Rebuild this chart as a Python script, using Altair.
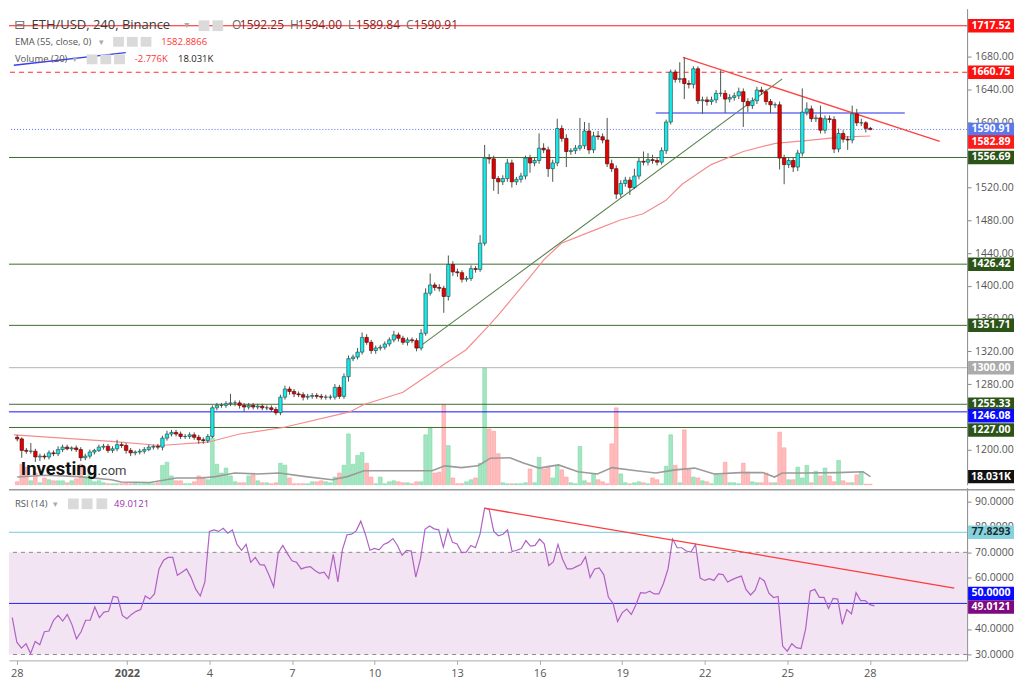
import altair as alt
import pandas as pd

# ---------------- data ----------------
first_open = 1215.0
# closes of 4h candles, from 2021-12-27 20:00 UTC
close = [1213,
    1199, 1198, 1198, 1191, 1192, 1191,   # Dec 28
    1196, 1195, 1200, 1203, 1201, 1202,   # Dec 29
    1200, 1190, 1192, 1197, 1199, 1203,   # Dec 30
    1204, 1199, 1201, 1206, 1205, 1199,   # Dec 31
    1196, 1197, 1198, 1200, 1203, 1204,   # Jan 1
    1203, 1214, 1219, 1221, 1219, 1216,   # Jan 2
    1216, 1218, 1215, 1212, 1211, 1216,   # Jan 3
    1251, 1254, 1254, 1256, 1257, 1257,   # Jan 4
    1254, 1252, 1254, 1252, 1253, 1251,   # Jan 5
    1251, 1249, 1245, 1264, 1274, 1271,   # Jan 6
    1268, 1267, 1264, 1265, 1266, 1265,   # Jan 7
    1264, 1264, 1264, 1276, 1265, 1289,   # Jan 8
    1311, 1313, 1319, 1337, 1331, 1321,   # Jan 9
    1324, 1325, 1329, 1334, 1340, 1336,   # Jan 10
    1331, 1334, 1333, 1324, 1342, 1391,   # Jan 11
    1401, 1398, 1397, 1387, 1426, 1417,   # Jan 12
    1416, 1408, 1409, 1421, 1420, 1452,   # Jan 13
    1556, 1555, 1531, 1527, 1531, 1550,   # Jan 14
    1527, 1530, 1534, 1556, 1550, 1553,   # Jan 15
    1568, 1566, 1543, 1550, 1592, 1580,   # Jan 16
    1564, 1565, 1568, 1571, 1589, 1566,   # Jan 17
    1583, 1582, 1578, 1549, 1543, 1512,   # Jan 18
    1525, 1529, 1520, 1534, 1552, 1551,   # Jan 19
    1554, 1553, 1551, 1565, 1600, 1661,   # Jan 20
    1652, 1653, 1647, 1646, 1665, 1626,   # Jan 21
    1627, 1625, 1627, 1635, 1635, 1628,   # Jan 22
    1630, 1632, 1637, 1625, 1620, 1626,   # Jan 23
    1639, 1637, 1625, 1621, 1621, 1556,   # Jan 24
    1548, 1553, 1545, 1562, 1612, 1616,   # Jan 25
    1604, 1605, 1590, 1604, 1603, 1567,   # Jan 26
    1586, 1579, 1578, 1610, 1599, 1599,   # Jan 27
    1592.25, 1590.91]                     # Jan 28

wick_up = [3,
    2, 3, 10, 3, 3, 3,   3, 3, 4, 3, 3, 2,   3, 3, 3, 3, 2, 3,   3, 3, 3, 6, 3, 3,
    3, 2, 3, 3, 3, 2,    3, 3, 4, 3, 3, 3,   3, 3, 3, 3, 3, 3,   3, 3, 3, 3, 11, 3,
    3, 3, 3, 3, 3, 3,    3, 3, 3, 3, 4, 3,   3, 3, 3, 3, 3, 3,   3, 3, 3, 4, 3, 4,
    4, 3, 5, 6, 4, 3,    3, 3, 3, 3, 5, 3,   3, 3, 3, 3, 5, 6,   14, 3, 4, 3, 11, 4,
    4, 3, 3, 4, 3, 10,   16, 5, 4, 3, 4, 5,  4, 3, 4, 3, 4, 3,   18, 6, 4, 4, 12, 4,
    5, 3, 4, 34, 11, 10, 5, 6, 4, 27, 5, 4,  4, 4, 4, 9, 5, 12,  8, 6, 4, 4, 3, 3,
    3, 20, 26, 4, 3, 3,  4, 4, 4, 4, 28, 4,  4, 4, 5, 4, 4, 4,   4, 4, 3, 3, 3, 4,
    4, 4, 4, 4, 29, 8,   4, 4, 15, 4, 4, 4,  6, 4, 4, 10, 6, 5,
    2, 1.75]
wick_dn = [3,
    9, 3, 3, 6, 5, 3,    3, 3, 3, 3, 2, 3,   3, 4, 3, 3, 3, 2,   3, 3, 3, 3, 3, 4,
    4, 3, 3, 3, 2, 3,    3, 4, 3, 3, 3, 3,   3, 3, 3, 5, 4, 3,   2, 3, 3, 3, 3, 4,
    4, 6, 3, 3, 3, 3,    3, 3, 3, 3, 3, 4,   4, 3, 4, 3, 3, 3,   3, 3, 3, 3, 3, 3,
    6, 3, 3, 3, 3, 4,    4, 3, 3, 3, 3, 4,   3, 4, 3, 4, 3, 3,   3, 4, 4, 20, 5, 5,
    5, 4, 3, 3, 4, 3,    3, 6, 15, 15, 4, 4, 7, 4, 4, 4, 12, 4,  4, 4, 10, 16, 4, 4,
    19, 4, 4, 3, 4, 5,   4, 4, 4, 4, 4, 6,   4, 4, 9, 2, 4, 4,   4, 4, 4, 3, 4, 3,
    4, 4, 19, 5, 5, 4,   16, 5, 4, 4, 4, 17, 4, 4, 4, 31, 8, 4,  4, 4, 4, 10, 4, 14,
    24, 4, 6, 5, 4, 4,   4, 4, 4, 4, 4, 5,   4, 4, 12, 4, 4, 4,
    5, 1.07]

volume_k = [6.5, 45.6, 39, 8.7, 26, 4.3, 15, 11, 8.7, 8.7,
    8.7, 4.3, 8.7, 13, 45.6, 17, 26, 6.5, 8.7, 4.3,
    2.2, 2.2, 2.2, 2.2, 4.3, 2.2, 4.3, 2.2, 4.3, 4.3,
    2.2, 4.3, 43, 50, 19.5, 8.7, 8.7, 2.2, 2.2, 6.5,
    19.5, 17, 11, 104, 45.6, 26, 37, 19.5, 6.5, 4.3,
    4.3, 19.5, 21.7, 8.7, 4.3, 4.3, 2.2, 4.3, 47.7, 43.4,
    15, 2.2, 2.2, 2.2, 2.2, 6.5, 6.5, 8.7, 6.5, 4.3,
    17, 26, 43.4, 113, 45.6, 65, 71.6, 47.7, 17, 2.2,
    17, 2.2, 6.5, 8.7, 6.5, 4.3, 4.3, 2.2, 6.5, 6.5,
    111, 126, 26, 28, 178, 87, 15, 2.2, 2.2, 6.5,
    11, 15, 47.7, 260, 124, 119, 69, 4.3, 2.2, 2.2,
    2.2, 2.2, 4.3, 35, 4.3, 61, 35, 41, 15, 43,
    33, 17, 4.3, 2.2, 85, 8.7, 4.3, 24, 11, 6.5,
    2.2, 91, 171, 24, 4.3, 2.2, 4.3, 6.5, 4.3, 2.2,
    15, 11, 2.2, 41, 111, 43, 4.3, 122, 33, 17,
    15, 8.7, 6.5, 2.2, 24, 22, 50, 4.3, 4.3, 2.2,
    48, 28, 6.5, 4.3, 4.3, 26, 4.3, 4.3, 117, 82,
    11, 11, 39, 15, 43, 4.3, 30, 19.5, 37, 19.5,
    6.5, 54, 8.7, 4.3, 4.3, 22, 28, 1, 1]

rsi = [44.4, 34.8, 32.5, 34.2, 30.4, 35.1, 33.8, 38.9, 39.2, 43.4,
    45.3, 43.1, 45.7, 41.8, 36.1, 38.9, 43.4, 43.4, 48.6, 44.4,
    46.6, 46.9, 52.7, 52.4, 45.3, 44.0, 45.7, 46.9, 47.6, 52.9,
    51.7, 53.7, 63.5, 66.9, 68.0, 68.0, 61.0, 62.2, 63.5, 60.1,
    55.6, 52.9, 58.4, 78.2, 78.8, 78.2, 79.4, 77.5, 78.8, 73.1,
    70.8, 73.1, 66.1, 68.0, 65.2, 65.0, 61.0, 56.5, 69.9, 72.7,
    69.5, 66.7, 66.1, 63.5, 64.1, 64.4, 62.9, 61.8, 62.2, 59.7,
    69.2, 58.4, 71.1, 76.9, 77.1, 78.4, 82.2, 77.1, 70.8, 71.5,
    71.0, 73.1, 73.9, 75.4, 72.7, 68.9, 70.8, 70.5, 60.3, 67.3,
    79.0, 80.3, 79.2, 78.8, 72.0, 79.0, 73.9, 73.3, 69.9, 70.1,
    72.7, 71.8, 77.1, 87.3, 86.8, 78.2, 76.5, 77.1, 78.8, 70.3,
    70.8, 71.5, 74.6, 72.4, 72.7, 75.2, 73.3, 64.8, 66.3, 73.1,
    67.3, 63.5, 63.5, 64.4, 65.2, 68.2, 60.1, 63.5, 63.9, 61.2,
    52.4, 50.1, 42.9, 46.3, 47.8, 45.7, 49.5, 54.2, 54.0, 54.8,
    53.7,
    53.7, 57.8, 63.5, 75.2, 71.8, 71.8, 70.5, 70.1, 73.1, 59.9,
    59.0, 59.7, 59.0, 61.6, 61.3, 58.4, 59.3, 60.1, 60.7, 55.5,
    53.3, 55.2, 60.1, 58.8, 54.0, 52.3, 52.7, 33.3, 31.3, 34.2,
    32.7, 32.3, 39.9, 54.8, 55.5, 52.4, 52.4, 48.0, 52.0, 51.7,
    41.8, 47.6, 45.9, 54.2, 51.1, 51.1, 49.5, 49.0121]

ema_time = ["2021-12-27T17:00:00Z", "2021-12-31T07:00:00Z", "2022-01-02T02:00:00Z",
    "2022-01-03T20:00:00Z", "2022-01-05T00:00:00Z", "2022-01-06T14:30:00Z",
    "2022-01-09T01:00:00Z", "2022-01-09T13:40:00Z", "2022-01-11T00:00:00Z",
    "2022-01-12T07:40:00Z", "2022-01-13T07:40:00Z", "2022-01-14T03:30:00Z",
    "2022-01-14T13:40:00Z", "2022-01-15T15:30:00Z", "2022-01-16T04:20:00Z",
    "2022-01-16T19:40:00Z", "2022-01-18T00:50:00Z", "2022-01-18T23:10:00Z",
    "2022-01-19T19:40:00Z", "2022-01-20T15:30:00Z", "2022-01-21T06:00:00Z",
    "2022-01-22T07:40:00Z", "2022-01-23T12:00:00Z", "2022-01-24T16:20:00Z",
    "2022-01-25T21:30:00Z", "2022-01-27T01:40:00Z", "2022-01-28T04:00:00Z"]
ema_value = [1218, 1210, 1205, 1209, 1219, 1227, 1246, 1255, 1270, 1300, 1322, 1351,
    1367, 1410, 1432, 1452, 1468, 1480, 1488, 1504, 1524, 1548, 1564, 1574,
    1577.6, 1581.5, 1582.89]

vma_time = ["2021-12-27T20:00", "2021-12-28T21:00", "2021-12-30T02:30", "2021-12-31T07:00",
    "2021-12-31T15:30", "2022-01-01T17:00", "2022-01-02T02:00", "2022-01-02T16:20",
    "2022-01-03T14:30", "2022-01-04T02:30", "2022-01-04T19:40", "2022-01-05T15:30",
    "2022-01-06T11:00", "2022-01-07T10:20", "2022-01-08T09:30", "2022-01-08T23:00",
    "2022-01-09T13:40", "2022-01-10T09:30", "2022-01-11T14:30", "2022-01-12T01:40",
    "2022-01-12T13:00", "2022-01-13T03:30", "2022-01-13T18:00", "2022-01-14T00:00",
    "2022-01-14T05:00", "2022-01-14T22:20", "2022-01-15T09:30", "2022-01-16T00:00",
    "2022-01-16T17:10", "2022-01-17T10:20", "2022-01-18T03:30", "2022-01-18T16:20",
    "2022-01-19T13:40", "2022-01-20T06:50", "2022-01-21T00:00", "2022-01-21T17:10",
    "2022-01-22T10:20", "2022-01-23T09:30", "2022-01-24T05:10", "2022-01-24T15:30",
    "2022-01-24T22:20", "2022-01-25T18:00", "2022-01-26T23:00", "2022-01-27T21:30",
    "2022-01-28T04:00"]
vma_value = [17, 21, 18, 11, 6, 5, 9, 15, 15, 18, 26, 24, 26, 18, 11, 18, 31, 31, 31, 31,
    42, 38, 42, 51, 59, 60, 49, 37, 44, 29, 24, 38, 31, 26, 33, 37, 24, 27, 27, 17,
    26, 26, 27, 29, 18.031]

# horizontal price levels
solid_green_levels = [1556.69, 1426.42, 1351.71, 1255.33, 1227.00]
red_solid_level = 1717.52
red_dashed_level = 1660.75
blue_dotted_level = 1590.91
gray_level = 1300.00
blue_level = 1246.08
ema_last = 1582.89
vol_ma_last = 18.031

# trend lines (start time, start value, end time, end value)
price_trend_red = ("2022-01-21T06:50:00Z", 1678.8, "2022-01-30T17:10:00Z", 1576.4)
price_trend_green = ("2022-01-11T12:50:00Z", 1323.9, "2022-01-24T22:20:00Z", 1652.6)
price_trend_blue = ("2022-01-20T06:50:00Z", 1611.0, "2022-01-29T10:20:00Z", 1611.0)
price_trend_blue_top = ("2021-12-27T17:00:00Z", 1669.3, "2021-12-31T19:40:00Z", 1684.8)
rsi_trend_red = ("2022-01-14T00:00:00Z", 87.3, "2022-01-31T01:40:00Z", 56.0)

rsi_levels = {"upper": 70, "lower": 30, "mid": 50, "mark": 77.8293}

# tick labels that are visible in the picture (the others sit under value boxes)
price_ticks = [1200, 1280, 1320, 1360, 1400, 1440, 1480, 1520, 1600, 1640, 1680]
rsi_ticks = [30, 40, 60, 70, 80, 90]
tick_days = [(2021, 12, 28), (2022, 1, 1), (2022, 1, 4), (2022, 1, 7), (2022, 1, 10),
             (2022, 1, 13), (2022, 1, 16), (2022, 1, 19), (2022, 1, 22), (2022, 1, 25),
             (2022, 1, 28)]

# ---------------- tables ----------------
times = pd.date_range("2021-12-27 20:00", periods=len(close), freq="4h")
assert len(close) == len(wick_up) == len(wick_dn) == len(volume_k) == len(rsi)
opens = [first_open] + close[:-1]
cdf = pd.DataFrame({
    "t": [t.strftime("%Y-%m-%dT%H:%M:%SZ") for t in times],
    "o": opens,
    "c": close,
    "hi": [max(a, b) + u for a, b, u in zip(opens, close, wick_up)],
    "lo": [min(a, b) - d for a, b, d in zip(opens, close, wick_dn)],
    "vol": volume_k,
    "rsi": rsi,
})
ema_df = pd.DataFrame({"t": ema_time, "v": ema_value})
vma_df = pd.DataFrame({"t": [s + ":00Z" for s in vma_time], "v": vma_value})

# ---------------- layout ----------------
FONT = "Open Sans"
W, H1, H2 = 960, 477, 173
KX, KY = 1008 / 1024, 675 / 691


def rx(x):
    return round(x * KX, 1)


def ry(y):
    return round(y * KY, 1)


def ryr(y):
    return round((y - 490) * KY, 1)


ONE = pd.DataFrame({"a": [0]})

xs = alt.Scale(type="utc", nice=False, domain=[
    alt.DateTime(year=2021, month=12, date=27, hours=17, minutes=9, utc=True),
    alt.DateTime(year=2022, month=1, date=31, hours=12, minutes=52, utc=True)])
ps = alt.Scale(domain=[1157.1, 1738.4], nice=False, zero=False)
vs = alt.Scale(domain=[0, 1059], nice=False, zero=False)
rs = alt.Scale(domain=[27.7, 95.3], nice=False, zero=False)

price_axis = alt.Axis(orient="right", values=price_ticks, format=".2f",
                      labelFont=FONT, labelFontSize=10.5, labelColor="#555", tickColor="#888",
                      domainColor="#888", tickSize=4, labelPadding=3.5, grid=False, title=None)
rsi_axis = alt.Axis(orient="right", values=rsi_ticks, format=".4f",
                    labelFont=FONT, labelFontSize=10.5, labelColor="#555", tickColor="#888",
                    domainColor="#888", tickSize=4, labelPadding=3.5, grid=False, title=None)
x_axis = alt.Axis(
    values=[alt.DateTime(year=y, month=m, date=d, utc=True) for y, m, d in tick_days],
    labelExpr="(utcmonth(datum.value) == 0 && utcdate(datum.value) == 1) ? '2022' : '' + utcdate(datum.value)",
    labelFontWeight={"condition": {"test": "utcmonth(datum.value) == 0 && utcdate(datum.value) == 1",
                                   "value": "bold"}, "value": "normal"},
    labelFont=FONT, labelFontSize=11, labelColor="#555", tickColor="#aaa", domainColor="#aaa",
    tickSize=4, labelPadding=3, grid=False, title=None, labelFlush=False)

AXES = {id(ps): price_axis, id(rs): rsi_axis, id(vs): None}


def X(f="t", axis=None):
    return alt.X(f"{f}:T", scale=xs, axis=axis, title=None)


def Yp(f, scale=ps):
    return alt.Y(f"{f}:Q", scale=scale, axis=AXES[id(scale)], title=None)


def text(s, x, y, size=9.5, color="#555", weight="normal", font=FONT, align="left"):
    return alt.Chart(ONE).mark_text(text=s, align=align, baseline="middle", fontSize=size,
                                    color=color, fontWeight=weight, font=font).encode(
        x=alt.value(x), y=alt.value(y))


def icon(x0, y0, x1, y1):
    return alt.Chart(ONE).mark_rect(color="#dadada").encode(
        x=alt.value(x0), x2=alt.value(x1), y=alt.value(y0), y2=alt.value(y1))


def hline(v, color, scale=ps, dash=None, width=1.0):
    kw = dict(color=color, strokeWidth=width)
    if dash:
        kw["strokeDash"] = dash
    return alt.Chart(pd.DataFrame({"v": [v]})).mark_rule(**kw).encode(y=Yp("v", scale))


def seg(line, color, scale=ps, width=1.2, xaxis=None):
    t1, v1, t2, v2 = line
    d = pd.DataFrame({"t1": [t1], "v1": [v1], "t2": [t2], "v2": [v2]})
    return alt.Chart(d).mark_rule(color=color, strokeWidth=width).encode(
        x=X("t1", xaxis), x2="t2:T", y=Yp("v1", scale), y2="v2:Q")


def box(v, label, bg, fg="white", scale=ps, nudge=0):
    d = pd.DataFrame({"v": [v]})
    b = alt.Chart(d).mark_tick(orient="horizontal", size=46, thickness=13.5, color=bg,
                               opacity=1, yOffset=nudge).encode(
        x=alt.value(W + 24), y=Yp("v", scale))
    t = alt.Chart(d).mark_text(text=label, color=fg, fontSize=10.5, fontWeight="bold", font=FONT,
                               align="center", baseline="middle", yOffset=nudge).encode(
        x=alt.value(W + 24), y=Yp("v", scale))
    return [b, t]


bull = "datum.c >= datum.o"
GREEN_DARK = "#2c5418"

# ---------------- top panel ----------------
vol_bars = alt.Chart(cdf).mark_bar(size=3.7, strokeWidth=0.6).encode(
    x=X(), y=Yp("vol", vs),
    fill=alt.condition(bull, alt.value("#a3e6c2"), alt.value("#ffbcbc")),
    stroke=alt.condition(bull, alt.value("#7fd8a6"), alt.value("#ff9d9d")))
vol_ma = alt.Chart(vma_df).mark_line(color="#9b9b9b", strokeWidth=1.6).encode(x=X(), y=Yp("v", vs))
vol_group = alt.layer(vol_bars, vol_ma, *box(vol_ma_last, "18.031K", "#111111", scale=vs))

price_layers = [hline(red_solid_level, "#ff1a1a")]
for lv in solid_green_levels:
    price_layers.append(hline(lv, "#3f6b2f"))
price_layers += [
    hline(red_dashed_level, "#ff2a2a", dash=[5, 4]),
    hline(blue_dotted_level, "#5c6fe6", dash=[1, 2]),
    hline(gray_level, "#b4b4b4"),
    hline(blue_level, "#1414ff"),
    alt.Chart(ema_df).mark_line(color="#f58c8c", strokeWidth=1.2).encode(x=X(), y=Yp("v")),
    seg(price_trend_green, "#58804a", width=1.1),
    seg(price_trend_blue, "#6e70f2", width=1.4),
    seg(price_trend_blue_top, "#3c3cf0", width=1.3),
    seg(price_trend_red, "#ff4040", width=1.3),
    alt.Chart(cdf).mark_rule(color="#4a574a", strokeWidth=1).encode(x=X(), y=Yp("lo"), y2="hi:Q"),
    alt.Chart(cdf).mark_bar(size=3.4, strokeWidth=0.7).encode(
        x=X(), y=Yp("o"), y2="c:Q",
        fill=alt.condition(bull, alt.value("#14ecec"), alt.value("#e80000")),
        stroke=alt.condition(bull, alt.value("#2f5050"), alt.value("#5e0a0a"))),
]
# right-hand value boxes
price_layers += box(red_solid_level, "1717.52", "#ff1010")
price_layers += box(red_dashed_level, "1660.75", "#ff1010")
price_layers += box(blue_dotted_level, "1590.91", "#5a78ec")
price_layers += box(ema_last, "1582.89", "#ff1a1a", nudge=6)
for lv in solid_green_levels:
    price_layers += box(lv, f"{lv:.2f}", GREEN_DARK, nudge=(2.5 if lv < 1230 else 0))
price_layers += box(gray_level, "1300.00", "#ababab")
price_layers += box(blue_level, "1246.08", "#0a0aff", nudge=4)

# header texts
price_layers += [
    text("⊟", rx(11), ry(17), size=13, color="#666", font="DejaVu Sans", align="center"),
    text("ETH/USD, 240, Binance", rx(23), ry(17), size=13, color="#3a3a3a"),
    text("▾", rx(181), ry(17), size=10, color="#aaa", font="DejaVu Sans", align="center"),
    icon(rx(193), ry(12), rx(204), ry(23)), icon(rx(207), ry(12), rx(218), ry(23)),
]
ohlc_names = ["O", "H", "L", "C"]
ohlc_vals = ["1592.25", "1594.00", "1589.84", "1590.91"]
for k, (nm, vl) in enumerate(zip(ohlc_names, ohlc_vals)):
    x0 = 227 + k * 59
    price_layers.append(text(nm, rx(x0), ry(17), size=12, color="#666"))
    price_layers.append(text(vl, rx(x0 + 8), ry(17), size=12, color="#8c2222"))
price_layers += [
    text("EMA (55, close, 0)", rx(6), ry(34)),
    text("▾", rx(94), ry(34), size=9, color="#aaa", font="DejaVu Sans", align="center"),
    icon(rx(106), ry(29), rx(117), ry(39)), icon(rx(120), ry(29), rx(131), ry(39)),
    icon(rx(134), ry(29), rx(145), ry(39)),
    text("1582.8866", rx(155), ry(34), color="#ff3535"),
    text("Volume (20)", rx(6), ry(52)),
    text("▾", rx(67), ry(52), size=9, color="#aaa", font="DejaVu Sans", align="center"),
    icon(rx(79), ry(47), rx(90), ry(57)), icon(rx(93), ry(47), rx(104), ry(57)),
    icon(rx(107), ry(47), rx(118), ry(57)),
    text("-2.776K", rx(128), ry(52), color="#ff3535"),
    text("18.031K", rx(172), ry(52), color="#222"),
    alt.Chart(ONE).mark_text(text="Investing", align="left", baseline="alphabetic", fontSize=18.5,
                             fontWeight="bold", font="Roboto", color="#111").encode(
        x=alt.value(rx(12)), y=alt.value(ry(478))),
    alt.Chart(ONE).mark_text(text=".com", align="left", baseline="alphabetic", fontSize=13,
                             font="Roboto", color="#444").encode(
        x=alt.value(rx(90)), y=alt.value(ry(478))),
]
price_group = alt.layer(*price_layers)

top = alt.layer(vol_group, price_group).resolve_scale(y="independent").properties(width=W, height=H1)

# ---------------- RSI panel ----------------
rsi_layers = [
    alt.Chart(pd.DataFrame({"hi": [rsi_levels["upper"]], "lo": [rsi_levels["lower"]]}))
    .mark_rect(color="#f2e4f2").encode(y=Yp("hi", rs), y2="lo:Q"),
    hline(rsi_levels["upper"], "#8a8a8a", scale=rs, dash=[4, 4]),
    hline(rsi_levels["lower"], "#8a8a8a", scale=rs, dash=[4, 4]),
    hline(rsi_levels["mid"], "#2020f0", scale=rs),
    hline(rsi_levels["mark"], "#8fd6e2", scale=rs, width=1.3),
    alt.Chart(cdf).mark_line(color="#b062c4", strokeWidth=1.2).encode(
        x=X("t", x_axis), y=Yp("rsi", rs)),
    seg(rsi_trend_red, "#ff3b3b", scale=rs, width=1.3, xaxis=x_axis),
    alt.Chart(ONE).mark_rule(color="#9a9a9a", strokeWidth=1.5).encode(
        x=alt.value(0), x2=alt.value(W + 48), y=alt.value(2)),
    text("RSI (14)", rx(6), ryr(507)),
    text("▾", rx(47), ryr(507), size=9, color="#aaa", font="DejaVu Sans", align="center"),
    icon(rx(60), ryr(501), rx(71), ryr(512)), icon(rx(74), ryr(501), rx(85), ryr(512)),
    icon(rx(89), ryr(501), rx(100), ryr(512)),
    text("49.0121", rx(107), ryr(507), color="#9c2fae"),
]
rsi_layers += box(rsi_levels["mark"], "77.8293", "#86d3e0", fg="#1e2e30", scale=rs)
rsi_layers += box(rsi_levels["mid"], "50.0000", "#0a0aff", scale=rs, nudge=-10)
rsi_layers += box(49.0121, "49.0121", "#7d0a80", scale=rs, nudge=1)

rsi_panel = alt.layer(*rsi_layers).properties(width=W, height=H2)

chart = alt.vconcat(top, rsi_panel, spacing=2).properties(
    padding=0, background="white").configure_view(stroke=None)

chart.save("out.html", embed_options={"renderer": "svg", "actions": False})
